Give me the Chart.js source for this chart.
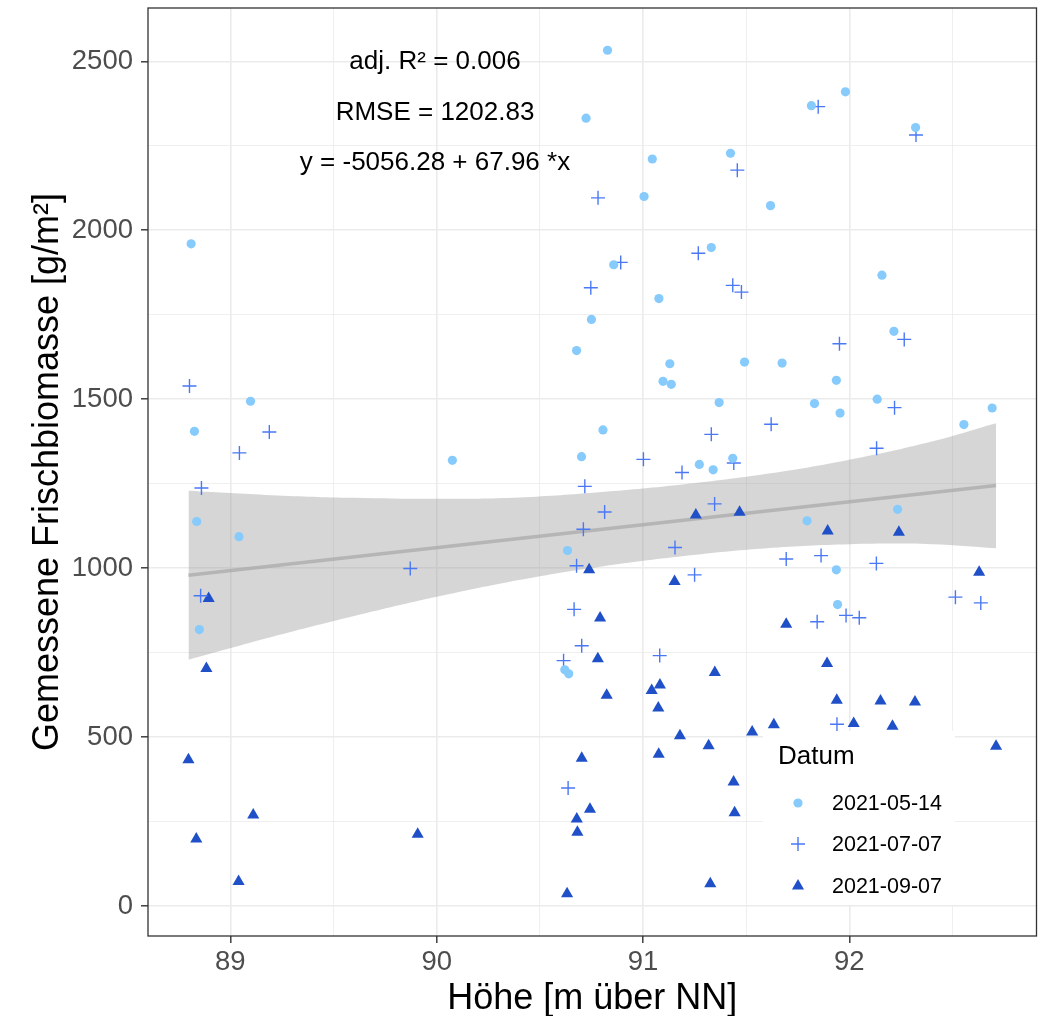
<!DOCTYPE html>
<html>
<head>
<meta charset="utf-8">
<script src="https://cdn.jsdelivr.net/npm/chart.js@4.4.1/dist/chart.umd.min.js"></script>
<style>
  body { margin: 0; background: #fff; }
  canvas { display: block; }
</style>
</head>
<body>
<canvas id="grafico" width="1041" height="1016"></canvas>
<script>
// datos
const serieNombres = ["2021-05-14", "2021-07-07", "2021-09-07"];

const mayoX = [88.81, 88.826, 88.837, 88.85, 89.098, 89.042, 90.076, 90.828, 90.724, 91.045, 91.424, 91.005, 91.618, 91.331, 90.858, 91.077, 90.75, 90.678, 91.13, 91.097, 91.137, 91.492, 91.674, 91.369, 90.806, 90.702, 91.273, 91.34, 91.435, 90.634, 90.621, 90.64, 91.816, 91.981, 92.321, 92.158, 92.216, 91.937, 91.831, 91.955, 92.135, 92.692, 92.555, 91.795, 92.234, 91.937, 91.943];
const mayoY = [1960, 1405, 1138, 818, 1494, 1093, 1319, 2533, 2332, 2211, 2228, 2100, 2073, 1949, 1898, 1798, 1736, 1644, 1605, 1553, 1544, 1610, 1607, 1490, 1409, 1330, 1307, 1291, 1325, 1052, 699, 687, 2369, 2410, 2304, 1867, 1701, 1556, 1487, 1459, 1500, 1474, 1425, 1140, 1174, 995, 892];

const julioX = [88.802, 88.86, 88.856, 89.044, 89.189, 89.872, 90.782, 91.457, 91.268, 90.892, 90.747, 91.435, 91.477, 91.331, 91.621, 91.002, 91.189, 91.44, 90.718, 90.814, 90.711, 91.347, 91.155, 90.678, 91.25, 90.666, 91.694, 90.703, 90.615, 91.081, 90.637, 91.849, 92.323, 91.952, 92.266, 92.219, 92.132, 91.863, 92.131, 92.514, 92.637, 91.844, 91.984, 92.048, 91.94];
const julioY = [1539, 1237, 918, 1341, 1403, 999, 2096, 2178, 1932, 1905, 1830, 1837, 1817, 1396, 1426, 1322, 1283, 1311, 1242, 1166, 1115, 1190, 1061, 1007, 980, 878, 1027, 770, 726, 741, 349, 2366, 2282, 1664, 1677, 1475, 1355, 1037, 1014, 914, 897, 841, 860, 853, 538];

const septX = [88.895, 88.884, 88.797, 89.111, 88.835, 89.04, 89.908, 91.256, 91.468, 90.739, 91.153, 90.792, 91.694, 90.781, 90.824, 91.348, 91.042, 91.082, 91.074, 91.179, 91.318, 91.529, 91.634, 90.703, 91.076, 91.439, 91.444, 90.743, 90.679, 90.682, 91.326, 90.632, 91.895, 92.24, 92.629, 91.892, 91.939, 92.151, 92.318, 92.021, 92.209, 92.711];
const septY = [910, 703, 433, 269, 198, 72, 212, 1157, 1165, 995, 960, 852, 834, 732, 624, 691, 638, 654, 586, 504, 474, 515, 536, 437, 449, 367, 276, 286, 257, 218, 66, 36, 1110, 1106, 988, 718, 609, 607, 604, 540, 532, 473];

// recta de regresión y banda de confianza
const rectaX = [88.797, 92.711];
const rectaY = [978.6, 1244.3];
const bandaX = [88.797, 89.2, 89.6, 90.0, 90.4, 90.8, 91.2, 91.6, 92.0, 92.4, 92.711];
const bandaSup = [1229, 1216, 1208, 1205, 1209, 1225, 1248, 1279, 1321, 1375, 1429];
const bandaInf = [729, 796, 858, 915, 965, 1005, 1036, 1059, 1071, 1071, 1059];

const textos = ["adj. R² = 0.006", "RMSE = 1202.83", "y = -5056.28 + 67.96 *x"];

// rejilla y etiquetas de los ejes
const gridX = [89, 89.5, 90, 90.5, 91, 91.5, 92, 92.5];
const gridY = [0, 250, 500, 750, 1000, 1250, 1500, 1750, 2000, 2250, 2500];
const limX = [88.601, 92.907];
const limY = [-89, 2658];

const colores = ["#86cbfc", "#4a78f5", "#1f50c8"];
const fuente = "'Liberation Sans', Arial, sans-serif";

const pares = (xs, ys) => xs.map((x, i) => ({ x: x, y: ys[i] }));

const esEntero = (v) => Math.abs(v - Math.round(v)) < 1e-6;
const esMultiplo = (v, m) => Math.abs(v / m - Math.round(v / m)) < 1e-6;

function dibujarMarca(ctx, tipo, x, y, color) {
  ctx.save();
  ctx.fillStyle = color;
  ctx.strokeStyle = color;
  ctx.beginPath();
  if (tipo === "circle") {
    ctx.arc(x, y, 4.6, 0, Math.PI * 2);
    ctx.fill();
  } else if (tipo === "cross") {
    ctx.lineWidth = 1.4;
    ctx.moveTo(x - 7, y);
    ctx.lineTo(x + 7, y);
    ctx.moveTo(x, y - 7);
    ctx.lineTo(x, y + 7);
    ctx.stroke();
  } else {
    const r = 7;
    ctx.moveTo(x, y - r);
    ctx.lineTo(x + r * 0.866, y + r / 2);
    ctx.lineTo(x - r * 0.866, y + r / 2);
    ctx.closePath();
    ctx.fill();
  }
  ctx.restore();
}

// quitar el margen extra que Chart.js deja para las etiquetas
function sinRelleno(s) {
  s.paddingTop = 0;
  s.paddingBottom = 0;
  s.paddingLeft = 0;
  s.paddingRight = 0;
}

// textos, leyenda y marco del panel
const decoracion = {
  id: "decoracion",
  afterDatasetsDraw(chart) {
    const ctx = chart.ctx;
    ctx.save();
    ctx.fillStyle = "#000";
    ctx.font = `26px ${fuente}`;
    ctx.textAlign = "center";
    ctx.textBaseline = "middle";
    const ys = [62, 113, 163];
    textos.forEach((t, i) => ctx.fillText(t, 435, ys[i]));
    ctx.restore();
  },
  afterDraw(chart) {
    const ctx = chart.ctx;
    const a = chart.chartArea;
    ctx.save();
    ctx.fillStyle = "#fff";
    ctx.fillRect(763, 731, 192, 174);
    ctx.fillStyle = "#000";
    ctx.textAlign = "left";
    ctx.textBaseline = "middle";
    ctx.font = `26px ${fuente}`;
    ctx.fillText("Datum", 778, 757);
    ctx.font = `21.5px ${fuente}`;
    const tipos = ["circle", "cross", "triangle"];
    const filas = [803, 844, 886];
    serieNombres.forEach((n, i) => {
      dibujarMarca(ctx, tipos[i], 798, filas[i], colores[i]);
      ctx.fillStyle = "#000";
      ctx.fillText(n, 832, filas[i] + 1);
    });
    ctx.strokeStyle = "#333333";
    ctx.lineWidth = 1.3;
    ctx.strokeRect(a.left, a.top, a.right - a.left, a.bottom - a.top);
    ctx.restore();
  },
};

const puntos = (i, estilo, radio) => ({
  type: "scatter",
  label: serieNombres[i],
  data: pares([mayoX, julioX, septX][i], [mayoY, julioY, septY][i]),
  pointStyle: estilo,
  pointRadius: radio,
  pointHoverRadius: radio,
  pointBorderWidth: estilo === "cross" ? 1.4 : 0,
  pointBackgroundColor: colores[i],
  pointBorderColor: colores[i],
  showLine: false,
  order: 0,
});

const config = {
  type: "scatter",
  data: {
    datasets: [
      puntos(0, "circle", 4.6),
      puntos(1, "cross", 7),
      puntos(2, "triangle", 7),
      {
        type: "line",
        label: "recta",
        data: pares(rectaX, rectaY),
        borderColor: "rgba(170,170,170,0.75)",
        borderWidth: 3.5,
        pointRadius: 0,
        fill: false,
        order: 1,
      },
      {
        type: "line",
        label: "inferior",
        data: pares(bandaX, bandaInf),
        borderWidth: 0,
        pointRadius: 0,
        fill: false,
        tension: 0.4,
        order: 2,
      },
      {
        type: "line",
        label: "superior",
        data: pares(bandaX, bandaSup),
        borderWidth: 0,
        pointRadius: 0,
        tension: 0.4,
        backgroundColor: "rgba(153,153,153,0.4)",
        fill: "-1",
        order: 3,
      },
    ],
  },
  options: {
    responsive: false,
    animation: false,
    devicePixelRatio: 1,
    layout: { autoPadding: false, padding: { top: 8, right: 4.5, left: 0, bottom: 0 } },
    plugins: {
      legend: { display: false },
      tooltip: { enabled: false },
    },
    scales: {
      x: {
        type: "linear",
        min: limX[0],
        max: limX[1],
        afterBuildTicks: (s) => { s.ticks = gridX.map((v) => ({ value: v })); },
        afterFit: (s) => { s.height = 80; sinRelleno(s); },
        border: { display: false },
        grid: {
          color: "#ebebeb",
          lineWidth: (c) => (esEntero(c.tick.value) ? 1.6 : 0.8),
          tickLength: 7,
          tickWidth: 1.4,
          tickColor: (c) => (esEntero(c.tick.value) ? "#333333" : "rgba(0,0,0,0)"),
        },
        ticks: {
          autoSkip: false,
          maxRotation: 0,
          padding: 3,
          color: "#4d4d4d",
          font: { size: 27.5, family: fuente },
          callback: (v) => (esEntero(v) ? String(v) : ""),
        },
        title: {
          display: true,
          text: "Höhe [m über NN]",
          color: "#000",
          font: { size: 36, family: fuente },
          padding: { top: 0, bottom: -5 },
        },
      },
      y: {
        type: "linear",
        min: limY[0],
        max: limY[1],
        afterBuildTicks: (s) => { s.ticks = gridY.map((v) => ({ value: v })); },
        afterFit: (s) => { s.width = 148; sinRelleno(s); },
        border: { display: false },
        grid: {
          color: "#ebebeb",
          lineWidth: (c) => (esMultiplo(c.tick.value, 500) ? 1.6 : 0.8),
          tickLength: 7,
          tickWidth: 1.4,
          tickColor: (c) => (esMultiplo(c.tick.value, 500) ? "#333333" : "rgba(0,0,0,0)"),
        },
        ticks: {
          autoSkip: false,
          padding: 8,
          color: "#4d4d4d",
          font: { size: 27.5, family: fuente },
          callback: (v) => (esMultiplo(v, 500) ? String(v) : ""),
        },
        title: {
          display: true,
          text: "Gemessene Frischbiomasse [g/m²]",
          color: "#000",
          font: { size: 36, family: fuente },
          padding: { top: 26, bottom: 0 },
        },
      },
    },
  },
  plugins: [decoracion],
};

const canvas = document.getElementById("grafico");
const myChart = new Chart(canvas, config);
</script>
</body>
</html>
